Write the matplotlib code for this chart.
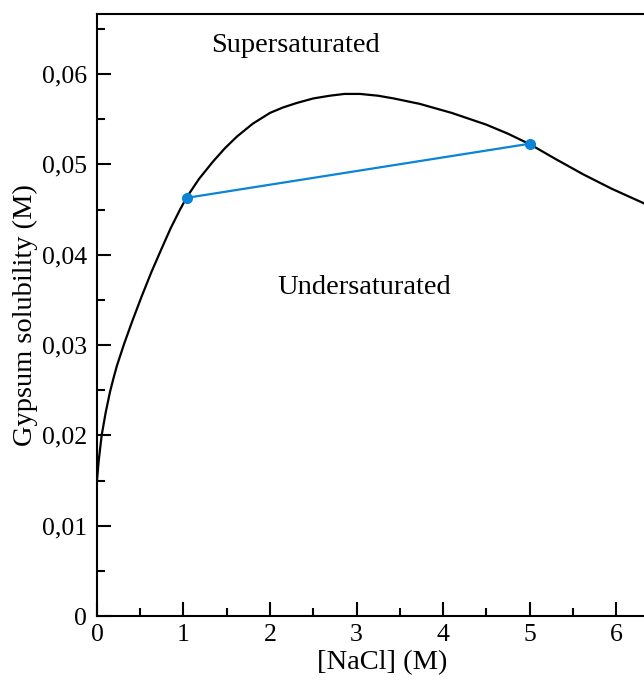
import numpy as np
import matplotlib.pyplot as plt
from matplotlib.ticker import MultipleLocator, FuncFormatter


# Data

nacl = [0.0, 0.02, 0.054, 0.10, 0.15, 0.19, 0.23, 0.316, 0.41, 0.517, 0.63,
        0.748, 0.85, 0.96, 1.04, 1.18, 1.34, 1.48, 1.62, 1.80, 2.00, 2.15,
        2.31, 2.50, 2.69, 2.86, 3.04, 3.25, 3.43, 3.73, 4.10, 4.50, 4.75,
        5.01, 5.30, 5.62, 5.95, 6.32, 6.45]
gypsum = [0.0150, 0.0172, 0.0200, 0.0225, 0.0248, 0.0263, 0.0277, 0.0302,
          0.0327, 0.0354, 0.0381, 0.0407, 0.0429, 0.0450, 0.0464, 0.0484,
          0.0503, 0.0518, 0.0531, 0.0545, 0.0557, 0.0563, 0.0568, 0.0573,
          0.0576, 0.0578, 0.0578, 0.0576, 0.0573, 0.0567, 0.0557, 0.0544,
          0.0534, 0.0522, 0.0506, 0.0489, 0.0473, 0.0457, 0.0451]

tie_x = [1.04, 5.01]
tie_y = [0.0463, 0.0523]


def comma_fmt(v, pos):
    if abs(v) < 1e-12:
        return "0"
    return ("%.2f" % v).replace(".", ",")


def main():
    plt.rcParams["font.family"] = ["Liberation Serif", "DejaVu Serif"]

    fig = plt.figure(figsize=(6.44, 6.87), dpi=100)
    # axes runs past the right edge of the figure, like the reference crop
    ax = fig.add_axes([0.1506, 0.1033, 0.8866, 0.877])

    ax.plot(nacl, gypsum, color="black", lw=1.6, solid_joinstyle="round")
    ax.plot(tie_x, tie_y, color="#0a84d6", lw=1.6, marker="o", ms=7)

    ax.text(2.30, 0.0632, "Supersaturated", fontsize=20.5,
            ha="center", va="center")
    ax.text(3.09, 0.0364, "Undersaturated", fontsize=20.5,
            ha="center", va="center")

    ax.set_xlim(0, 6.6)
    ax.set_ylim(0, 0.0667)

    ax.xaxis.set_major_locator(MultipleLocator(1))
    ax.xaxis.set_minor_locator(MultipleLocator(0.5))
    ax.yaxis.set_major_locator(MultipleLocator(0.01))
    ax.yaxis.set_minor_locator(MultipleLocator(0.005))
    ax.yaxis.set_major_formatter(FuncFormatter(comma_fmt))

    ax.tick_params(which="both", direction="in", width=1.5, labelsize=18.5,
                   top=False, right=False)
    ax.tick_params(which="major", length=10)
    ax.tick_params(which="minor", length=5.5)
    ax.tick_params(axis="y", pad=7)
    ax.tick_params(axis="x", pad=6)

    for side in ["left", "bottom", "top"]:
        ax.spines[side].set_linewidth(1.5)
    ax.spines["right"].set_visible(False)

    ax.set_xlabel("[NaCl] (M)", fontsize=20.5, labelpad=3)
    ax.set_ylabel("Gypsum solubility (M)", fontsize=20.5, labelpad=3)

    plt.savefig("out.png", dpi=100)
    plt.close()


if __name__ == "__main__":
    main()
